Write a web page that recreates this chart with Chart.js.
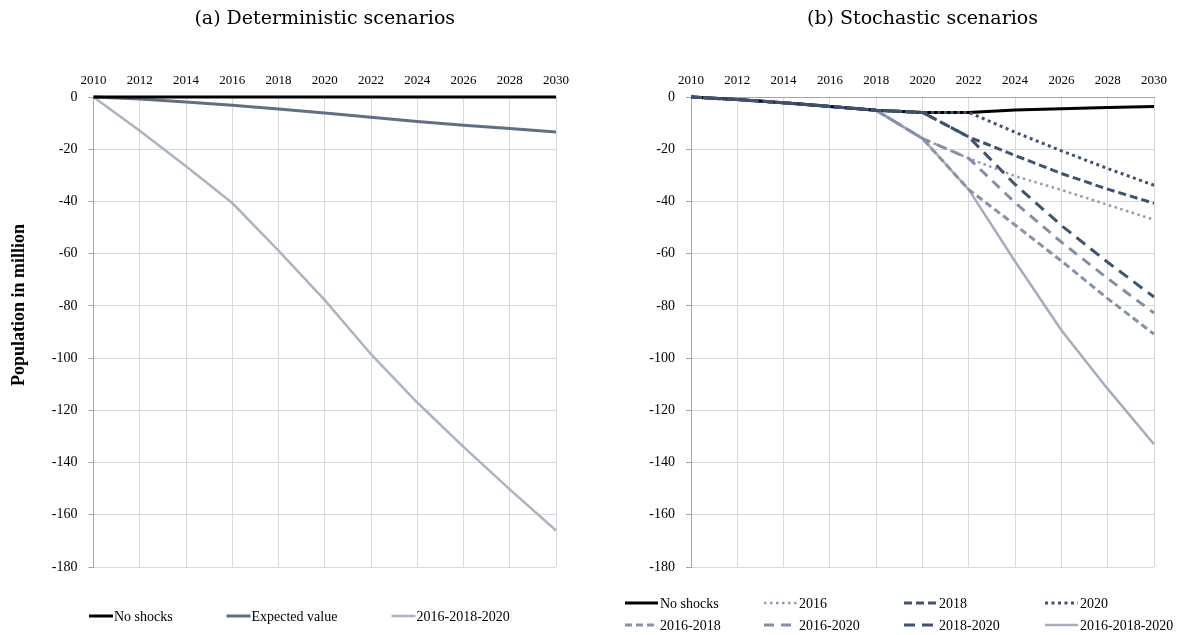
<!DOCTYPE html>
<html>
<head>
<meta charset="utf-8">
<script src="https://cdn.jsdelivr.net/npm/chart.js@4"></script>
<style>
  html, body { margin: 0; padding: 0; background: #ffffff; }
  #wrap { position: relative; width: 1184px; height: 635px; overflow: hidden; }
  canvas { position: absolute; top: 0; }
</style>
</head>
<body>
<div id="wrap">
  <canvas id="ca" width="592" height="635" style="left:0px"></canvas>
  <canvas id="cb" width="592" height="635" style="left:592px"></canvas>
</div>
<script>
// ---------- data ----------
const years = ['2010','2012','2014','2016','2018','2020','2022','2024','2026','2028','2030'];
const yTicks = [0, -20, -40, -60, -80, -100, -120, -140, -160, -180];

// Panel (a) deterministic scenarios
const detNoShocks   = [0, 0, 0, 0, 0, 0, 0, 0, 0, 0, 0];
const detExpected   = [0, -0.8, -1.9, -3.2, -4.6, -6.1, -7.8, -9.4, -10.8, -12.1, -13.4];
const detAllShocks  = [0, -12.9, -26.5, -40.6, -58.8, -77.8, -98.5, -117.0, -134.0, -150.3, -166.0];

// Panel (b) stochastic scenarios
const stoNoShocks   = [0, -1.0, -2.2, -3.6, -5.1, -5.9, -5.9, -5.0, -4.5, -4.0, -3.6];
const sto2016       = [0, -1.0, -2.2, -3.6, -5.1, -15.9, -23.5, -30.3, -35.6, -41.3, -47.0];
const sto2018       = [0, -1.0, -2.2, -3.6, -5.1, -5.9, -15.3, -22.4, -29.3, -35.3, -40.7];
const sto2020       = [0, -1.0, -2.2, -3.6, -5.1, -5.9, -5.9, -13.5, -20.6, -27.4, -33.8];
const sto2016_2018  = [0, -1.0, -2.2, -3.6, -5.1, -15.9, -35.5, -49.0, -62.8, -77.2, -90.8];
const sto2016_2020  = [0, -1.0, -2.2, -3.6, -5.1, -15.9, -23.5, -40.5, -55.6, -69.5, -82.7];
const sto2018_2020  = [0, -1.0, -2.2, -3.6, -5.1, -5.9, -15.3, -33.5, -49.2, -63.3, -76.6];
const stoAll        = [0, -1.0, -2.2, -3.6, -5.1, -15.9, -35.5, -63.0, -89.3, -111.8, -133.0];

// ---------- styling helpers ----------
const X_FONT = { family: 'Liberation Serif', size: 13 };
const Y_FONT = { family: 'Liberation Serif', size: 14 };
const GRID = '#d9d9d9';
const AXIS = '#a6a6a6';

const decor = {
  id: 'decor',
  afterDraw(chart, args, o) {
    const ctx = chart.ctx, ca = chart.chartArea;
    ctx.save();
    ctx.fillStyle = '#000';
    ctx.textAlign = 'center';
    ctx.textBaseline = 'middle';
    ctx.font = '19px "DejaVu Serif"';
    ctx.fillText(o.title, (ca.left + ca.right) / 2, 19);
    if (o.yTitle) {
      ctx.save();
      ctx.translate(o.yTitleX, o.yTitleY);
      ctx.rotate(-Math.PI / 2);
      ctx.font = 'bold 18px "Liberation Serif"';
      ctx.fillText(o.yTitle, 0, 0);
      ctx.restore();
    }
    ctx.font = '14px "Liberation Serif"';
    ctx.textAlign = 'left';
    chart.data.datasets.forEach((ds, i) => {
      const p = o.legendPos[i];
      ctx.save();
      ctx.strokeStyle = ds.borderColor;
      ctx.lineWidth = ds.borderWidth;
      ctx.setLineDash(ds.borderDash || []);
      ctx.beginPath();
      ctx.moveTo(p[0], p[1]);
      ctx.lineTo(p[0] + o.sample, p[1]);
      ctx.stroke();
      ctx.restore();
      ctx.fillText(ds.label, p[0] + o.sample + o.gap, p[1] + 1);
    });
    ctx.restore();
  }
};

function makeOptions(yWidth, padRight, decorOpts) {
  return {
    responsive: false,
    animation: false,
    layout: { padding: { left: 0, right: padRight, top: 0, bottom: 68 } },
    elements: { point: { radius: 0 }, line: { tension: 0 } },
    plugins: {
      legend: { display: false },
      title: { display: false },
      tooltip: { enabled: false },
      decor: decorOpts
    },
    scales: {
      x: {
        type: 'category',
        position: 'top',
        offset: false,
        grid: { color: GRID, lineWidth: 1, drawTicks: false },
        border: { color: AXIS, width: 1 },
        ticks: { font: X_FONT, color: '#000', padding: 9, maxRotation: 0, autoSkip: false },
        afterFit: s => { s.height = 97; }
      },
      y: {
        min: -180, max: 0,
        grid: { color: GRID, lineWidth: 1, tickLength: 5, tickColor: AXIS },
        border: { color: AXIS, width: 1 },
        ticks: { font: Y_FONT, color: '#000', padding: 11 },
        afterBuildTicks: s => { s.ticks = yTicks.map(v => ({ value: v })); },
        afterFit: s => { s.width = yWidth; }
      }
    }
  };
}

function line(label, data, color, width, dash, order) {
  return { label, data, borderColor: color, backgroundColor: color, borderWidth: width,
           borderDash: dash, fill: false, clip: 6, order, pointRadius: 0, borderCapStyle: 'butt' };
}

// ---------- panel (a) ----------
new Chart(document.getElementById('ca'), {
  type: 'line',
  data: {
    labels: years,
    datasets: [
      line('No shocks', detNoShocks, '#000000', 3, [], 0),
      line('Expected value', detExpected, '#5f6f86', 3, [], 1),
      line('2016-2018-2020', detAllShocks, '#aab4c3', 2.5, [], 2)
    ]
  },
  options: makeOptions(93.5, 36, {
    title: '(a) Deterministic scenarios',
    yTitle: 'Population in million', yTitleX: 19, yTitleY: 305,
    legendPos: [[89, 616], [226.5, 616], [391.5, 616]],
    sample: 24, gap: 1
  }),
  plugins: [decor]
});

// ---------- panel (b) ----------
const DARK = '#3e5372';
const SHORT = [8, 4];
const LONG = [11, 7];
const DOT = [3, 3.5];
const colX = [33, 172, 312, 453];
const rowY = [603, 625];
const legB = [0,1,2,3,4,5,6,7].map(i => [colX[i % 4], rowY[Math.floor(i / 4)]]);

new Chart(document.getElementById('cb'), {
  type: 'line',
  data: {
    labels: years,
    datasets: [
      line('No shocks', stoNoShocks, '#000000', 3, [], 3),
      line('2016', sto2016, '#8e9cb3', 2.5, [2.5, 3.5], 6),
      line('2018', sto2018, DARK, 3, SHORT, 1),
      line('2020', sto2020, DARK, 3, DOT, 0),
      line('2016-2018', sto2016_2018, '#8594ab', 3, [7, 4], 4),
      line('2016-2020', sto2016_2020, '#8090a8', 3, [10, 7], 5),
      line('2018-2020', sto2018_2020, DARK, 3, LONG, 2),
      line('2016-2018-2020', stoAll, '#a3adbd', 2.5, [], 7)
    ]
  },
  options: makeOptions(99, 30, {
    title: '(b) Stochastic scenarios',
    legendPos: legB,
    sample: 33, gap: 2
  }),
  plugins: [decor]
});
</script>
</body>
</html>
